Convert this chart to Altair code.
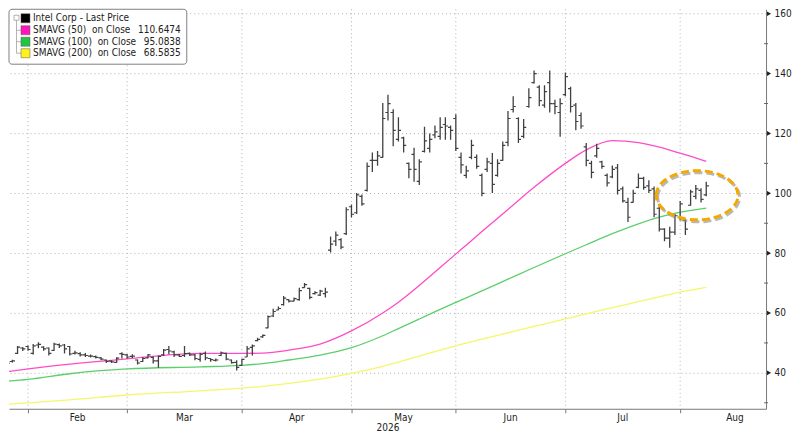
import altair as alt
import pandas as pd

FONT = "DejaVu Sans Condensed, DejaVu Sans, sans-serif"

# ---- trading calendar (x axis is trading-day index) ----
holidays = ["2026-02-16", "2026-04-03", "2026-05-25", "2026-06-19", "2026-07-03", "2026-09-07"]
trading_days = pd.bdate_range("2026-01-26", "2026-09-30", freq="C", holidays=holidays)

# ---- Intel Corp OHLC (trading-day index 1..135) ----
first_bar = 1
opens = [44.6, 43.8, 46.5, 48.3, 48.8, 46.5, 49.3, 48.6, 48.3, 47.5,
         49.4, 49.3, 48.8, 46.5, 46.4, 46.0, 45.6, 45.4, 45.0, 44.3,
         43.9, 43.5, 46.4, 46.0, 45.5, 44.3, 43.8, 45.0, 45.2, 44.0,
         46.0, 47.8, 47.0, 46.0, 45.8, 46.5, 46.0, 44.5, 46.5, 44.8,
         44.2, 45.8, 46.5, 44.3, 43.5, 42.5, 45.3, 48.5, 50.8, 52.0,
         55.0, 59.0, 61.0, 62.8, 64.5, 64.0, 64.5, 68.5, 68.2, 66.5,
         66.0, 66.5, 81.0, 84.0, 84.5, 86.5, 95.5, 93.5, 99.0, 101.0,
         111.0, 111.0, 112.0, 127.0, 127.0, 118.0, 118.5, 110.0, 113.0, 104.0,
         114.0, 115.0, 119.5, 119.0, 123.0, 122.0, 125.0, 112.0, 106.0, 112.0,
         112.0, 106.0, 108.0, 110.0, 106.0, 111.0, 117.0, 128.0, 125.0, 119.0,
         129.0, 137.0, 135.5, 129.5, 137.0, 130.0, 127.0, 133.0, 135.0, 129.5,
         126.0, 115.5, 110.0, 112.5, 110.5, 106.0, 105.5, 108.5, 101.5, 97.0,
         97.0, 102.0, 105.0, 102.5, 101.5, 95.0, 88.0, 85.0, 87.0, 92.0,
         91.0, 96.0, 99.0, 101.0, 99.5]
highs = [44.8, 44.4, 49.0, 48.6, 49.1, 49.6, 50.2, 48.9, 48.5, 50.1,
         49.8, 49.6, 49.0, 47.4, 46.9, 46.6, 46.1, 45.8, 45.3, 44.5,
         44.2, 45.2, 46.9, 46.3, 46.2, 44.5, 45.3, 46.3, 45.5, 45.8,
         48.0, 49.0, 47.4, 46.3, 49.0, 46.8, 46.3, 46.7, 47.1, 44.9,
         44.8, 47.1, 46.7, 44.5, 44.2, 44.7, 49.0, 49.5, 51.7, 52.8,
         59.2, 61.4, 62.2, 65.7, 64.6, 65.2, 68.4, 70.0, 68.4, 67.3,
         67.8, 68.4, 85.6, 87.2, 85.0, 95.3, 96.3, 100.1, 99.6, 110.3,
         113.6, 114.1, 130.2, 132.9, 128.1, 125.4, 118.9, 110.3, 115.2, 111.4,
         122.2, 120.0, 122.7, 125.4, 125.4, 122.7, 126.4, 113.6, 109.2, 117.9,
         113.0, 106.6, 111.9, 113.5, 111.4, 117.3, 127.5, 132.4, 125.4, 124.8,
         135.1, 141.0, 136.1, 136.1, 141.0, 131.3, 131.8, 140.4, 135.6, 130.2,
         127.0, 116.8, 110.9, 116.6, 110.9, 106.6, 109.3, 109.8, 102.3, 98.5,
         101.2, 106.6, 105.5, 104.4, 102.3, 96.3, 88.3, 88.8, 93.1, 97.4,
         91.4, 101.2, 102.8, 101.7, 103.9]
lows = [43.0, 43.5, 46.3, 47.3, 47.4, 46.1, 48.2, 47.4, 45.8, 47.4,
        48.3, 46.5, 45.8, 46.1, 45.5, 45.3, 45.1, 44.8, 44.2, 43.3,
        43.3, 43.4, 44.8, 44.7, 45.0, 42.8, 43.6, 44.9, 43.1, 41.7,
        45.6, 46.2, 45.3, 45.3, 45.3, 45.6, 44.2, 43.7, 44.2, 43.7,
        43.8, 45.6, 44.2, 43.1, 40.8, 42.4, 45.3, 45.8, 50.6, 51.7,
        54.9, 58.7, 60.9, 62.5, 63.5, 63.9, 64.1, 68.4, 64.6, 66.2,
        65.7, 65.2, 80.2, 82.4, 81.3, 86.1, 92.0, 93.1, 95.8, 100.6,
        107.1, 109.2, 111.9, 124.3, 115.7, 117.3, 113.6, 105.0, 103.9, 102.8,
        113.6, 113.6, 118.4, 117.9, 117.9, 117.9, 114.1, 106.6, 105.0, 111.4,
        108.2, 99.0, 107.1, 100.1, 105.5, 110.9, 115.7, 127.0, 116.8, 118.4,
        128.6, 136.7, 129.1, 128.6, 127.0, 126.4, 118.9, 132.4, 127.0, 121.1,
        121.6, 109.0, 105.0, 111.9, 108.2, 102.3, 105.0, 99.6, 96.9, 90.4,
        96.9, 101.7, 101.2, 100.1, 92.0, 87.2, 84.0, 81.8, 86.1, 91.0,
        86.1, 95.8, 98.0, 96.9, 99.0]
closes = [43.2, 44.0, 48.6, 48.0, 47.8, 49.0, 49.5, 48.0, 46.5, 49.6,
          49.0, 48.0, 46.3, 46.7, 46.0, 45.8, 45.6, 45.2, 44.6, 43.8,
          43.7, 44.9, 46.2, 45.3, 45.6, 43.3, 44.8, 46.0, 44.0, 45.5,
          47.6, 47.3, 46.0, 45.5, 46.4, 46.0, 44.8, 46.2, 45.0, 44.4,
          44.3, 46.7, 44.6, 43.4, 41.8, 44.5, 48.0, 49.0, 51.2, 52.5,
          58.8, 60.5, 61.5, 65.0, 64.0, 64.8, 67.5, 69.5, 65.2, 66.8,
          67.3, 67.0, 83.0, 86.0, 82.0, 94.5, 93.0, 99.5, 96.5, 109.0,
          111.0, 112.5, 125.0, 130.0, 121.0, 121.0, 116.0, 108.0, 108.0, 110.5,
          117.5, 118.0, 120.5, 122.0, 122.5, 121.0, 115.0, 109.5, 107.5, 116.0,
          109.0, 100.0, 110.5, 103.0, 110.0, 116.0, 125.0, 129.0, 118.0, 122.0,
          132.0, 140.0, 131.0, 134.0, 130.0, 129.0, 130.0, 139.0, 129.0, 124.0,
          122.5, 111.0, 107.0, 115.0, 109.0, 103.5, 108.0, 101.0, 97.5, 92.0,
          100.0, 105.0, 102.0, 101.0, 93.0, 88.0, 85.0, 87.0, 92.5, 96.5,
          88.0, 100.5, 101.5, 98.0, 102.5]

# ---- moving averages, read at selected trading-day indices ----
ma_idx = [0, 5, 13, 24, 38, 46, 50, 55, 61, 67, 73, 76, 80, 84, 88, 92, 97, 102, 108, 112, 117, 122, 126, 130, 135]
sma50 = [40.1, 41.3, 42.9, 44.7, 46.5, 46.5, 46.6, 47.6, 49.6, 54.0, 60.0, 63.6, 69.2, 75.2, 81.2, 87.2, 94.6,
         102.0, 110.0, 114.5, 117.6, 116.9, 115.4, 113.4, 110.65]
sma100 = [37.1, 37.8, 39.7, 41.3, 42.0, 42.5, 43.1, 44.3, 45.9, 48.4, 52.4, 54.8, 58.0, 61.2, 64.3, 67.4, 71.3,
          75.2, 79.8, 82.8, 86.5, 89.8, 92.0, 93.7, 95.08]
sma200 = [29.4, 30.0, 31.0, 32.6, 34.0, 34.9, 35.5, 36.5, 37.9, 39.8, 42.2, 43.6, 45.6, 47.6, 49.5, 51.3, 53.4,
          55.5, 58.0, 59.7, 61.8, 63.8, 65.4, 67.0, 68.58]

series_names = ["Intel Corp - Last Price", "SMAVG (50)  on Close", "SMAVG (100)  on Close", "SMAVG (200)  on Close"]
last_values = ["", "110.6474", "95.0838", "68.5835"]
swatch_colors = ["#000000", "#ff14bd", "#22c445", "#fff21c"]
line_colors = ["#3a3a3a", "#ff4cc6", "#5ccf6c", "#f7f56a"]

y_ticks = [40, 60, 80, 100, 120, 140, 160]
y_minor = [30, 50, 70, 90, 110, 130, 150]

# annotation ellipse centre (trading-day index, price)
ring_idx = [133.25]
ring_val = [99.35]
year_label = "2026"
year_label_idx = [74]

# ---- derived tables ----
n = len(closes)
price = pd.DataFrame({
    "idx": list(range(first_bar, first_bar + n)),
    "open": opens, "high": highs, "low": lows, "close": closes,
})
ma = pd.concat([
    pd.DataFrame({"idx": ma_idx, "value": vals, "series": name})
    for name, vals in zip(series_names[1:], [sma50, sma100, sma200])
])

starts = [i for i in range(1, len(trading_days)) if trading_days[i].month != trading_days[i - 1].month]
month_starts = [s for s in starts if s < 146]
months = pd.DataFrame({
    "start": month_starts,
    "mid": [(a + b) / 2 for a, b in zip(starts[:len(month_starts)], starts[1:len(month_starts) + 1])],
    "label": [trading_days[s].strftime("%b") for s in month_starts],
})

# ---- geometry / scales ----
W, H = 758, 400
PX_PER_DAY = 5.224
X0 = 1.36
xs = alt.Scale(domain=[X0, X0 + W / PX_PER_DAY], nice=False, zero=False)
ys = alt.Scale(domain=[28, 161.5], nice=False, zero=False)
GRID = "#b3b3b3"
BAR = "#404040"

x_axis = alt.Axis(values=month_starts, labels=False, ticks=True, tickSize=4, tickColor="#777",
                  grid=False, domainColor="#777", title=None)
y_axis = alt.Axis(orient="right", values=y_ticks, grid=True, gridDash=[1, 3], gridColor=GRID,
                  ticks=False, labelPadding=8, domainColor="#777", title=None,
                  labelFontSize=10, labelColor="#222", labelFont=FONT)


def X(f):
    return alt.X(f, type="quantitative", scale=xs, axis=x_axis)


def Y(f):
    return alt.Y(f, type="quantitative", scale=ys, axis=y_axis)


vgrid = alt.Chart(months).mark_rule(strokeDash=[1, 3], color=GRID).encode(x=X("start"))

lines = alt.Chart(ma).mark_line(strokeWidth=1.3, interpolate="monotone", clip=True).encode(
    x=X("idx"), y=Y("value"),
    color=alt.Color("series:N", scale=alt.Scale(domain=series_names[1:], range=line_colors[1:]), legend=None),
)

base = alt.Chart(price)
hl = base.mark_rule(color=BAR, strokeWidth=1.3, clip=True).encode(x=X("idx"), y=Y("low"), y2=alt.Y2("high"))
op = base.mark_rule(color=BAR, strokeWidth=1.2, xOffset=-2.6, clip=True).encode(
    x=X("idx"), x2=alt.X2("idx"), y=Y("open"))
cl = base.mark_rule(color=BAR, strokeWidth=1.2, x2Offset=2.6, clip=True).encode(
    x=X("idx"), x2=alt.X2("idx"), y=Y("close"))

ELLIPSE = ("M-1,0 C-1,-0.331 -0.552,-0.6 0,-0.6 C0.552,-0.6 1,-0.331 1,0 "
           "C1,0.331 0.552,0.6 0,0.6 C-0.552,0.6 -1,0.331 -1,0 Z")
ring_df = pd.DataFrame({"idx": ring_idx, "value": ring_val})
ring_shadow = alt.Chart(ring_df).mark_point(
    shape=ELLIPSE, size=6724, filled=False, color="#8a8a8a", strokeWidth=3,
    strokeDash=[8, 4], opacity=0.6, xOffset=1.5, yOffset=2).encode(x=X("idx"), y=Y("value"))
ring = alt.Chart(ring_df).mark_point(
    shape=ELLIPSE, size=6724, filled=False, color="#f5a800", strokeWidth=3,
    strokeDash=[8, 4], opacity=1).encode(x=X("idx"), y=Y("value"))

# month labels and year
mlabels = alt.Chart(months).mark_text(font=FONT, fontSize=10, color="#222", baseline="middle").encode(
    x=X("mid"), y=alt.value(H + 9), text="label:N")
ylabel = alt.Chart(pd.DataFrame({"idx": year_label_idx, "t": [year_label]})).mark_text(
    font=FONT, fontSize=10, color="#222", baseline="middle").encode(
    x=X("idx"), y=alt.value(H + 19), text="t:N")

# right axis decorations
minor = alt.Chart(pd.DataFrame({"v": y_minor})).mark_rule(color="#666").encode(
    x=alt.value(W - 2), x2=alt.value(W + 2), y=Y("v"))
arrows = alt.Chart(pd.DataFrame({"v": y_ticks})).mark_point(
    shape="triangle-right", filled=True, size=22, color="#222", opacity=1).encode(
    x=alt.value(W + 3), y=Y("v"))

# legend box
one = pd.DataFrame({"a": [0]})
legend_layers = [
    alt.Chart(one).mark_rect(fill="white", stroke="#808080", strokeWidth=1, cornerRadius=3).encode(
        x=alt.value(0), x2=alt.value(178), y=alt.value(0), y2=alt.value(55)),
    alt.Chart(one).mark_rect(fill="white", stroke="#a0a0a0", strokeWidth=0.8).encode(
        x=alt.value(5), x2=alt.value(10), y=alt.value(6), y2=alt.value(11)),
    alt.Chart(one).mark_rule(color="#a0a0a0", strokeWidth=0.8).encode(
        x=alt.value(7.5), y=alt.value(11), y2=alt.value(44)),
]
row_y = [9, 21, 32.5, 44]
for i, (name, val, col) in enumerate(zip(series_names, last_values, swatch_colors)):
    if i > 0:
        legend_layers.append(alt.Chart(one).mark_rule(color="#a0a0a0", strokeWidth=0.8).encode(
            x=alt.value(7.5), x2=alt.value(12), y=alt.value(row_y[i])))
    legend_layers.append(alt.Chart(one).mark_rect(fill=col, stroke="#555", strokeWidth=0.5).encode(
        x=alt.value(12), x2=alt.value(21), y=alt.value(row_y[i] - 4.5), y2=alt.value(row_y[i] + 4.5)))
    legend_layers.append(alt.Chart(pd.DataFrame({"t": [name.replace(" ", "\u00a0")]})).mark_text(
        font=FONT, fontSize=10, color="#222", align="left", baseline="middle").encode(
        x=alt.value(24), y=alt.value(row_y[i]), text="t:N"))
    if val:
        legend_layers.append(alt.Chart(pd.DataFrame({"t": [val]})).mark_text(
            font=FONT, fontSize=10, color="#222", align="right", baseline="middle").encode(
            x=alt.value(172), y=alt.value(row_y[i]), text="t:N"))

chart = alt.layer(
    vgrid, lines, hl, op, cl, ring_shadow, ring, mlabels, ylabel, minor, arrows, *legend_layers
).properties(width=W, height=H, padding=0).configure_view(stroke=None)

chart.save("out.html", embed_options={"renderer": "svg", "actions": False})
